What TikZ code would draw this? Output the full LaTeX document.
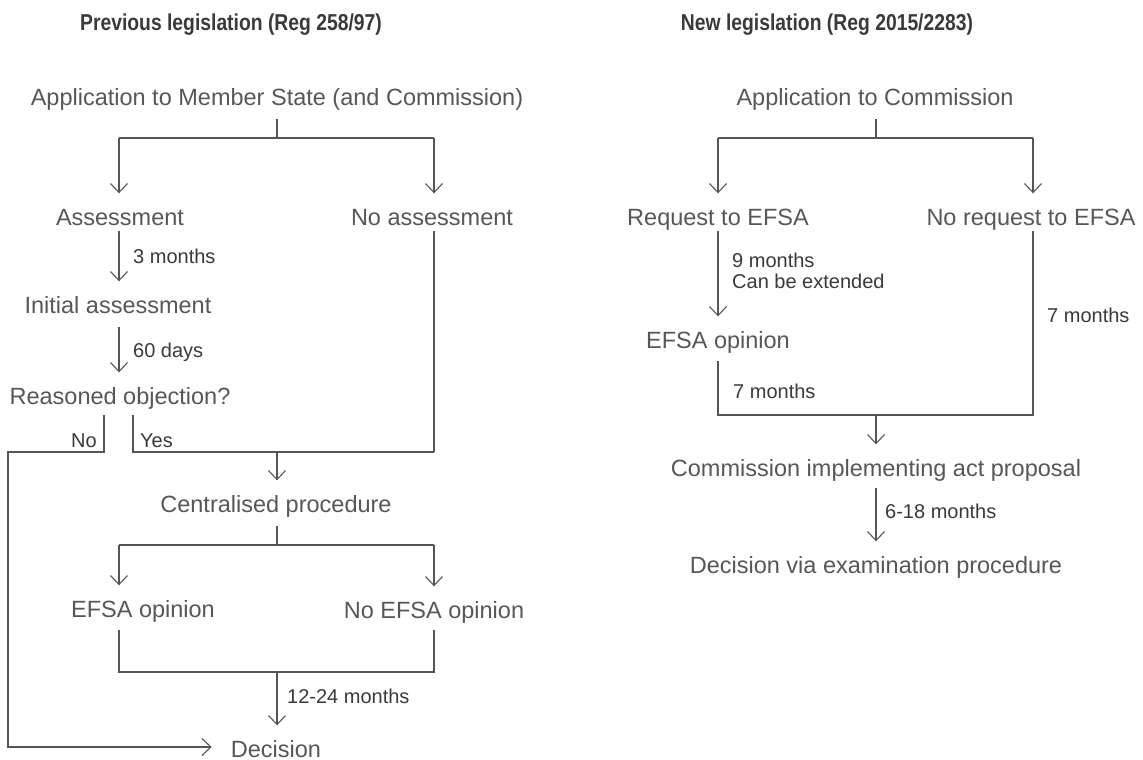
\documentclass[tikz,border=0pt]{standalone}
\usepackage{fontspec}
\setmainfont{Liberation Sans}
\newfontfamily\titlefont[FakeStretch=0.84]{Liberation Sans}
\usetikzlibrary{arrows.meta}
\definecolor{lc}{HTML}{555555}
\definecolor{maincol}{HTML}{575757}
\definecolor{labcol}{HTML}{3A3A3A}
\definecolor{titlecol}{HTML}{3A3A3A}
\tikzset{
  txt/.style={inner sep=0pt, text height=17pt, text depth=5pt, anchor=base, text=maincol, font=\fontsize{23.5pt}{28pt}\selectfont},
  lbl/.style={inner sep=0pt, anchor=base west, text=labcol, align=left, font=\fontsize{20pt}{21pt}\selectfont},
  ttl/.style={inner sep=0pt, anchor=base, text=titlecol, font=\titlefont\bfseries\fontsize{23pt}{27pt}\selectfont},
  ln/.style={draw=lc, line width=1.1pt},
  arr/.style={ln, -{Straight Barb[length=9pt,width=17pt]}, shorten >=14.5pt},
}
\begin{document}
\begin{tikzpicture}[x=1pt,y=-1pt]
\fill[white] (0,0) rectangle (1143,760);
\useasboundingbox (0,0) rectangle (1143,760);
% column coordinates
\coordinate (cL) at (119,0);
\coordinate (cR) at (434,0);
\coordinate (cNo) at (104,0);
\coordinate (cYes) at (133,0);
\coordinate (barA) at (277,138);
\coordinate (yj) at (277,452);
\coordinate (barC) at (277,545);
\coordinate (barD) at (277,672);
\coordinate (noCorner) at (8,747);
\coordinate (dL) at (718,0);
\coordinate (dR) at (1033,0);
\coordinate (barE) at (876,138);
\coordinate (barF) at (876,415);
% titles
\node[ttl] (t1) at (231,31) {Previous legislation (Reg 258/97)};
\node[ttl] (t2) at (827,31) {New legislation (Reg 2015/2283)};
% left nodes
\node[txt] (app) at (277,105) {Application to Member State (and Commission)};
\node[txt] (assess) at (120,225) {Assessment};
\node[txt] (noassess) at (432,225) {No assessment};
\node[txt] (init) at (118,313) {Initial assessment};
\node[txt] (reason) at (120,404) {Reasoned objection?};
\node[txt] (central) at (276,512) {Centralised procedure};
\node[txt] (efsa) at (143,617) {EFSA opinion};
\node[txt] (noefsa) at (434,618) {No EFSA opinion};
\node[txt] (dec) at (276,757) {Decision};
% left labels
\node[lbl] (l3m) at (133,263) {3 months};
\node[lbl] (l60) at (133,357) {60 days};
\node[lbl, anchor=base east] (lno) at (97,447) {No};
\node[lbl] (lyes) at (140,447) {Yes};
\node[lbl] (l1224) at (287,703) {12-24 months};
% right nodes
\node[txt] (app2) at (875,105) {Application to Commission};
\node[txt] (req) at (718,225) {Request to EFSA};
\node[txt] (noreq) at (1031,225) {No request to EFSA};
\node[txt] (efsa2) at (718,348) {EFSA opinion};
\node[txt] (comm) at (876,476) {Commission implementing act proposal};
\node[txt] (decvia) at (876,573) {Decision via examination procedure};
% right labels
\node[lbl] (l9m) at (732,288) {9 months\\Can be extended};
\node[lbl] (l7r) at (1047,322) {7 months};
\node[lbl] (l7l) at (733,398) {7 months};
\node[lbl] (l618) at (885,518) {6-18 months};
% left connectors
\draw[ln, shorten <=9pt] (barA |- app.south) -- (barA);
\draw[ln] (cL |- barA) -- (cR |- barA);
\draw[arr] (cL |- barA) -- (cL |- assess.north);
\draw[arr] (cR |- barA) -- (cR |- noassess.north);
\draw[arr, shorten <=1pt] (cL |- assess.south) -- (cL |- init.north);
\draw[arr, shorten <=9pt] (cL |- init.south) -- (cL |- reason.north);
\draw[ln, -{Straight Barb[length=9pt,width=17pt]}, shorten <=6pt, shorten >=19pt]
  (cNo |- reason.south) -- (cNo |- yj) -- (noCorner |- yj) -- (noCorner) -- (dec.west |- noCorner);
\draw[ln, shorten <=6pt] (cYes |- reason.south) -- (cYes |- yj) -- (cR |- yj);
\draw[ln, shorten <=1pt] (cR |- noassess.south) -- (cR |- yj);
\draw[arr] (yj) -- (yj |- central.north);
\draw[ln, shorten <=9pt] (barC |- central.south) -- (barC);
\draw[ln] (cL |- barC) -- (cR |- barC);
\draw[arr] (cL |- barC) -- (cL |- efsa.north);
\draw[arr] (cR |- barC) -- (cR |- noefsa.north);
\draw[ln, shorten <=8pt, shorten >=7pt] (cL |- efsa.south) -- (cL |- barD) -- (cR |- barD) -- (cR |- noefsa.south);
\draw[arr] (barD) -- (barD |- dec.north);
% right connectors
\draw[ln, shorten <=9pt] (barE |- app2.south) -- (barE);
\draw[ln] (dL |- barE) -- (dR |- barE);
\draw[arr] (dL |- barE) -- (dL |- req.north);
\draw[arr] (dR |- barE) -- (dR |- noreq.north);
\draw[arr, shorten <=1pt] (dL |- req.south) -- (dL |- efsa2.north);
\draw[ln, shorten <=8pt, shorten >=1pt] (dL |- efsa2.south) -- (dL |- barF) -- (dR |- barF) -- (dR |- noreq.south);
\draw[arr] (barF) -- (barF |- comm.north);
\draw[arr, shorten <=7pt] (barF |- comm.south) -- (barF |- decvia.north);
\end{tikzpicture}
\end{document}
